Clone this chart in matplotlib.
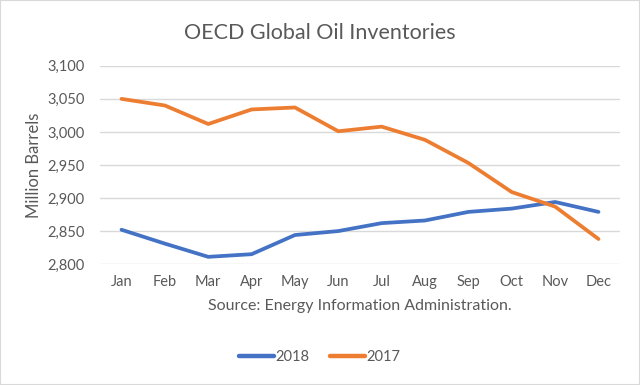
import matplotlib
matplotlib.use("Agg")
from matplotlib import pyplot as plt
from matplotlib.patches import Rectangle
from matplotlib.ticker import FuncFormatter

months = ["Jan", "Feb", "Mar", "Apr", "May", "Jun", "Jul", "Aug", "Sep", "Oct", "Nov", "Dec"]
inv_2018 = [2852, 2831, 2811, 2815, 2844, 2850, 2862, 2866, 2879, 2884, 2894, 2879]
inv_2017 = [3050, 3040, 3012, 3034, 3037, 3001, 3008, 2988, 2953, 2909, 2887, 2838]
y_ticks = [2800, 2850, 2900, 2950, 3000, 3050, 3100]

grey = "#595959"
plt.rcParams["font.family"] = ["Lato", "DejaVu Sans"]

fig = plt.figure(figsize=(6.4, 3.85), dpi=100)
ax = fig.add_axes([0.156, 0.314, 0.813, 0.515])

x = list(range(len(months)))
ax.plot(x, inv_2018, color="#4472C4", lw=2.7, label="2018", solid_capstyle="round")
ax.plot(x, inv_2017, color="#ED7D31", lw=2.7, label="2017", solid_capstyle="round")

ax.set_xlim(-0.5, len(months) - 0.5)
ax.set_ylim(2800, 3100)
ax.set_yticks(y_ticks)
ax.yaxis.set_major_formatter(FuncFormatter(lambda v, p: f"{int(v):,}"))
ax.set_xticks(x)
ax.set_xticklabels(months)
ax.grid(axis="y", color="#d9d9d9", lw=1)
ax.set_axisbelow(True)
for s in ax.spines.values():
    s.set_visible(False)
ax.tick_params(length=0, labelsize=10.5, colors=grey, pad=8)
ax.tick_params(axis="y", pad=11)

ax.set_ylabel("Million Barrels", fontsize=12, color=grey, labelpad=4)
ax.set_xlabel("Source: Energy Information Administration.", fontsize=11.5, color=grey, labelpad=7)
fig.text(0.5, 0.915, "OECD Global Oil Inventories", ha="center", va="center", fontsize=15.5, color=grey)

fig.legend(loc="center", bbox_to_anchor=(0.5, 0.073), ncol=2, frameon=False, fontsize=10.5,
           labelcolor=grey, handlelength=2.4, handletextpad=0.1, columnspacing=1.4)
for line in fig.legends[0].get_lines():
    line.set_linewidth(3.2)

fig.patches.append(Rectangle((0, 0), 1, 1, transform=fig.transFigure, fill=False,
                             edgecolor="#d9d9d9", lw=1.5))

fig.savefig("out.png", dpi=100)
